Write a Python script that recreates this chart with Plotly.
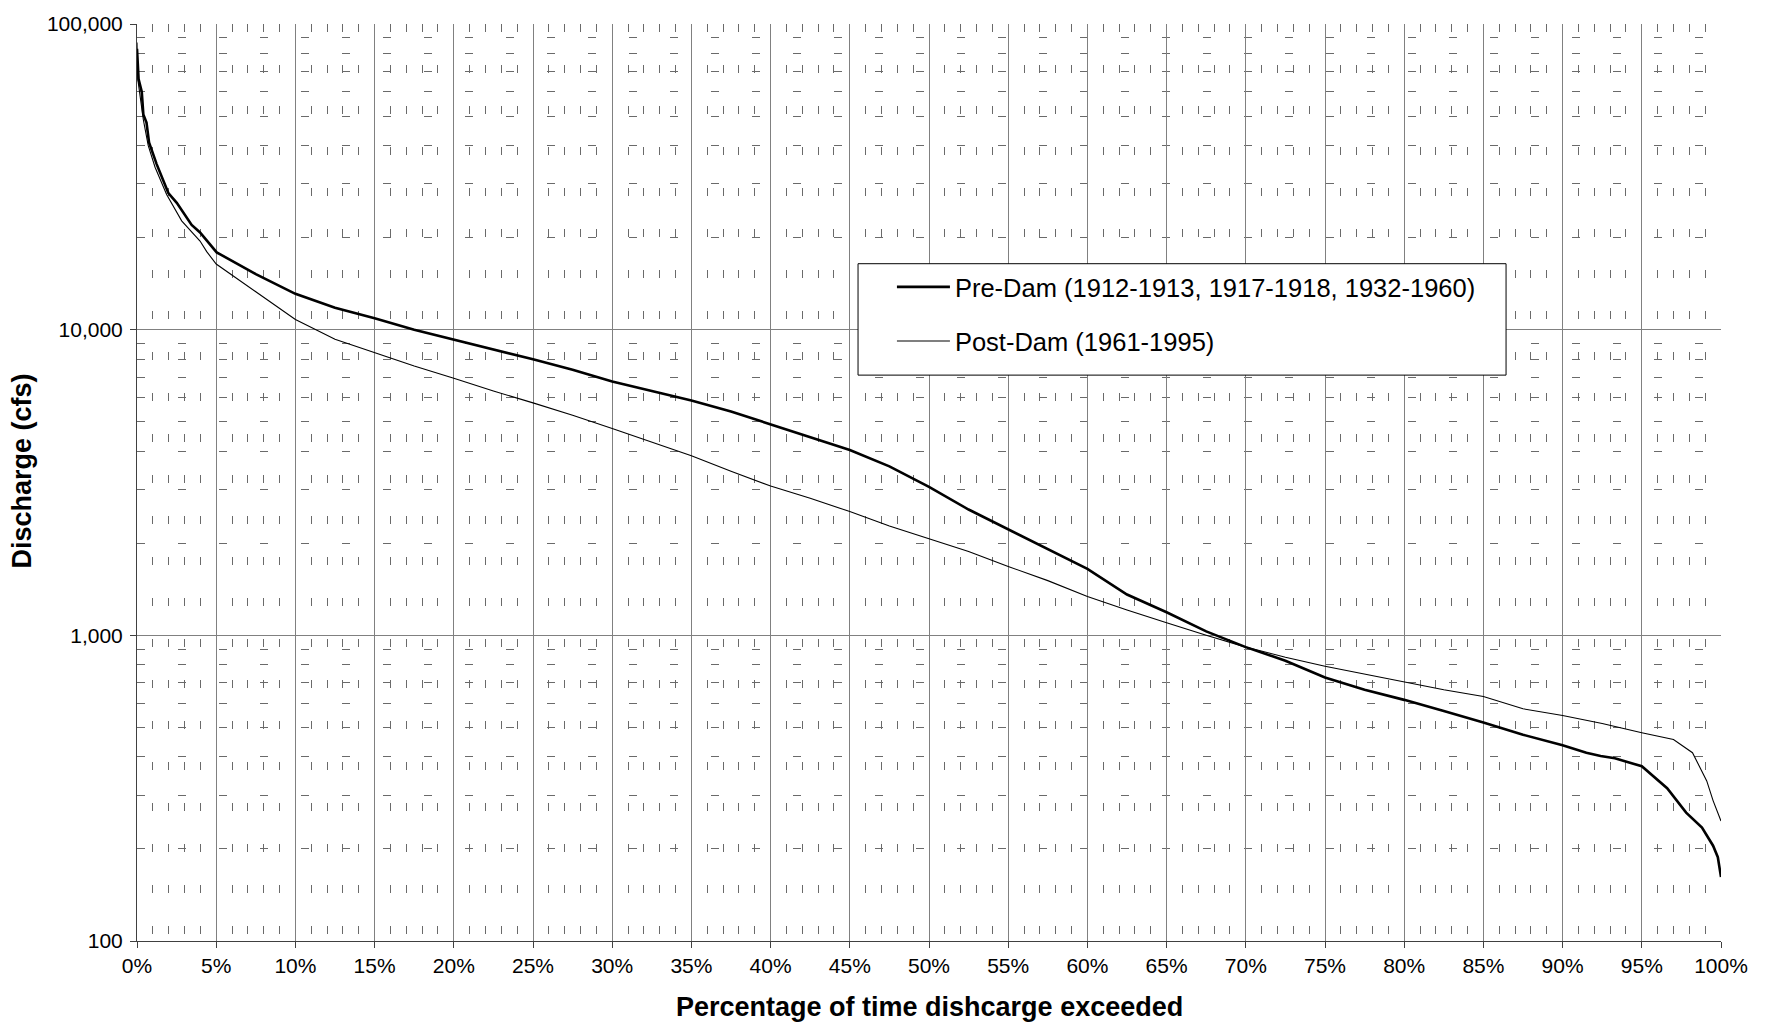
import plotly.graph_objects as go

# Flow-duration curve: percent of time a discharge is equalled or exceeded
pct_pre = [0, 0.1, 0.3, 0.4, 0.6, 0.76, 1.24, 1.98, 2.51, 3.45, 3.98, 5.03,
           7.5, 10, 12.5, 15, 17.5, 20, 22.5, 25, 27.5, 30, 32.5, 35, 37.5,
           40, 42.5, 45, 47.5, 50, 52.5, 55, 57.5, 60, 62.5, 65, 67.5, 70,
           72.5, 75, 77.5, 80, 82.5, 85, 87.5, 90, 91.5, 92.4, 93.3, 95,
           96.6, 97.8, 98.8, 99.5, 99.8, 100]
cfs_pre = [83000, 66000, 60000, 50600, 47600, 41000, 34800, 28000, 26000,
           22000, 20800, 17900, 15200, 13100, 11800, 10900, 10000, 9300,
           8650, 8000, 7400, 6770, 6300, 5860, 5400, 4910, 4440, 4040, 3570,
           3060, 2580, 2220, 1920, 1650, 1360, 1190, 1030, 915, 826, 728,
           664, 615, 565, 519, 473, 437, 413, 403, 396, 373, 316, 263, 235,
           205, 188, 162]

pct_post = [0, 0.05, 0.4, 0.71, 1.14, 1.87, 2.82, 3.98, 4.4, 5, 7.5, 10,
            12.5, 15, 17.5, 20, 22.5, 25, 27.5, 30, 32.5, 35, 37.5, 40, 42.5,
            45, 47.5, 50, 52.5, 55, 57.5, 60, 62.5, 65, 67.5, 70, 72.5, 75,
            77.5, 80, 82.5, 85, 86, 87.5, 90, 92.5, 95, 97, 98.2, 99.1, 99.5,
            100]
cfs_post = [87000, 66000, 48600, 40000, 34000, 27700, 22700, 19500, 18000,
            16400, 13300, 10800, 9300, 8400, 7600, 6940, 6300, 5760, 5250,
            4750, 4290, 3870, 3440, 3080, 2810, 2540, 2280, 2070, 1880, 1680,
            1510, 1340, 1210, 1100, 1000, 915, 848, 792, 747, 704, 664, 631,
            608, 575, 547, 515, 480, 456, 413, 334, 288, 247]

name_pre = "Pre-Dam (1912-1913, 1917-1918, 1932-1960)"
name_post = "Post-Dam (1961-1995)"
x_title = "Percentage of time dishcarge exceeded"
y_title = "Discharge (cfs)"

FONT = "Liberation Sans, Arial, sans-serif"
GRID = "#808080"
MINOR = "#6a6a6a"
MINOR_DASH = "8px,33px"
TITLE_FONT = dict(size=27, color="black", family=FONT, weight="bold")

fig = go.Figure()
fig.add_trace(go.Scatter(x=pct_pre, y=cfs_pre, mode="lines", name=name_pre,
                         legendgroup="pre",
                         line=dict(color="black", width=2.6)))
fig.add_trace(go.Scatter(x=pct_post, y=cfs_post, mode="lines", name=name_post,
                         legendgroup="post",
                         line=dict(color="black", width=1.1)))

fig.update_xaxes(
    range=[0, 100], tick0=0, dtick=5, ticksuffix="%",
    showgrid=True, gridcolor=GRID, gridwidth=1, zeroline=False,
    showline=True, linecolor="#404040", linewidth=1,
    ticks="outside", ticklen=6, tickcolor="#404040",
    tickfont=dict(size=21, color="black", family=FONT),
    minor=dict(dtick=1, showgrid=True, gridcolor=MINOR, gridwidth=1,
               griddash=MINOR_DASH),
)
fig.update_yaxes(
    type="log", range=[2, 5], dtick=1, tickformat=",d",
    showgrid=True, gridcolor=GRID, gridwidth=1, zeroline=False,
    showline=True, linecolor="#404040", linewidth=1,
    ticks="outside", ticklen=6, tickcolor="#404040", ticklabelstandoff=3,
    tickfont=dict(size=21, color="black", family=FONT),
    minor=dict(dtick="D1", showgrid=True, gridcolor=MINOR, gridwidth=1,
               griddash=MINOR_DASH),
)

# Axis titles
fig.add_annotation(text=x_title, xref="paper", yref="paper", x=0.5,
                   y=-0.0716, xanchor="center", yanchor="middle",
                   showarrow=False, font=TITLE_FONT)
fig.add_annotation(text=y_title, xref="paper", yref="paper", x=-0.0726,
                   y=0.512, xanchor="center", yanchor="middle",
                   textangle=-90, showarrow=False, font=TITLE_FONT)

# Framed legend box
fig.add_shape(type="rect", xref="paper", yref="paper",
              x0=0.4552, x1=0.8643, y0=0.6171, y1=0.7386,
              line=dict(color="black", width=1), fillcolor="white",
              layer="above")

fig.update_layout(
    width=1765, height=1029,
    margin=dict(l=137, r=44, t=19, b=88),
    paper_bgcolor="white", plot_bgcolor="white",
    font=dict(family=FONT, color="black"),
    showlegend=True,
    legend=dict(x=0.4766, y=0.7385, xanchor="left", yanchor="top",
                bgcolor="rgba(0,0,0,0)", borderwidth=0,
                font=dict(size=25.5, family=FONT, color="black"),
                itemwidth=53, traceorder="grouped", tracegroupgap=18),
)

fig.write_html("out.html")
